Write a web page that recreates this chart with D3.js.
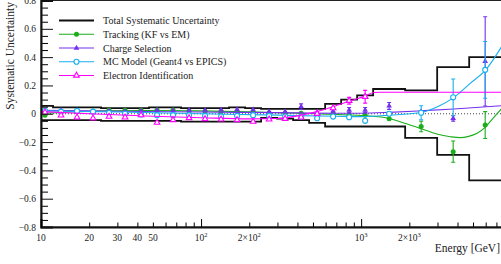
<!DOCTYPE html>
<html>
<head>
<meta charset="utf-8">
<script src="https://cdn.jsdelivr.net/npm/d3@7"></script>
<style>
  body { margin: 0; background: #fff; }
  svg { display: block; font-family: "Liberation Serif", "Times New Roman", serif; }
  svg text { font-family: "Liberation Serif", "Times New Roman", serif; }
</style>
</head>
<body>
<div id="chart"></div>
<script>
// energy bin edges [GeV]
const binEdges = [9.441, 11.885, 14.962, 18.836, 23.714, 29.854, 37.584, 47.315, 59.566, 74.989,
  94.406, 118.85, 149.62, 188.36, 237.14, 298.54, 375.84, 473.15, 595.66, 749.89,
  944.06, 1188.5, 1883.6, 2985.4, 4731.5, 7498.9];

const totalUpper = [0.055, 0.045, 0.045, 0.045, 0.04, 0.04, 0.04, 0.045, 0.045, 0.04, 0.04, 0.04,
  0.045, 0.04, 0.035, 0.035, 0.035, 0.035, 0.07, 0.10, 0.13, 0.175, 0.165, 0.33, 0.40];
const totalLower = [-0.045, -0.045, -0.045, -0.045, -0.05, -0.05, -0.05, -0.05, -0.05, -0.055, -0.055, -0.055,
  -0.055, -0.055, -0.03, -0.035, -0.045, -0.065, -0.09, -0.09, -0.09, -0.09, -0.17, -0.29, -0.47];

const trackingVals = [-0.01, 0.005, 0.015, 0.02, 0.026, 0.025, 0.025, 0.026, 0.026, 0.02, 0.018, 0.015,
  0.018, 0.01, 0.005, 0.003, 0.003, -0.005, 0.0, -0.01, -0.01, -0.035, -0.09, -0.268, -0.08];
const trackingErrs = [0.004, 0.004, 0.004, 0.004, 0.004, 0.004, 0.004, 0.004, 0.004, 0.005, 0.005, 0.005,
  0.005, 0.006, 0.006, 0.007, 0.007, 0.008, 0.008, 0.01, 0.01, 0.012, 0.037, 0.075, 0.095];
const trackingFit = [[10, 0.0], [15, 0.012], [25, 0.02], [50, 0.023], [100, 0.02], [200, 0.013], [400, 0.004],
  [700, -0.005], [1000, -0.012], [1450, -0.03], [1750, -0.056], [2300, -0.1], [3000, -0.145], [3600, -0.162],
  [4150, -0.169], [4700, -0.16], [5300, -0.138], [5900, -0.1], [6400, -0.056], [7000, -0.005], [7600, 0.04]];

const chargeVals = [0.015, 0.025, 0.02, 0.01, 0.02, 0.015, 0.02, 0.025, 0.022, 0.025, 0.025, 0.028,
  0.03, 0.03, 0.015, 0.015, 0.05, 0.01, 0.02, 0.026, 0.026, 0.055, 0.015, -0.032, 0.37];
const chargeErrs = [0.005, 0.005, 0.005, 0.005, 0.006, 0.006, 0.006, 0.006, 0.007, 0.008, 0.008, 0.009,
  0.01, 0.01, 0.01, 0.012, 0.02, 0.012, 0.018, 0.018, 0.018, 0.024, 0.015, 0.02, 0.315];
const chargeFit = [[10, 0.025], [30, 0.018], [100, 0.012], [300, 0.008], [700, 0.004], [1000, 0.004],
  [1500, 0.01], [2300, 0.02], [3800, 0.034], [7600, 0.057]];

const mcModelVals = [0.02, 0.015, 0.02, 0.015, 0.005, 0.0, -0.005, -0.01, -0.01, -0.01, -0.015, -0.02,
  -0.015, -0.01, -0.015, -0.02, -0.02, -0.032, -0.02, -0.025, -0.05, 0.0, 0.007, 0.116, 0.31];
const mcModelErrs = [0.004, 0.004, 0.004, 0.004, 0.004, 0.004, 0.004, 0.004, 0.004, 0.005, 0.005, 0.005,
  0.005, 0.005, 0.006, 0.006, 0.006, 0.007, 0.008, 0.008, 0.01, 0.01, 0.05, 0.13, 0.2];
const mcModelFit = [[10, 0.02], [30, 0.012], [100, 0.0], [300, -0.01], [700, -0.018], [1000, -0.02],
  [1500, -0.01], [2300, 0.007], [3000, 0.05], [3800, 0.116], [4800, 0.215], [6000, 0.31], [7600, 0.48]];

const electronIdVals = [0.01, -0.011, -0.025, -0.032, -0.02, -0.025, -0.01, -0.063, -0.044, -0.03, -0.037, -0.04,
  -0.044, -0.056, -0.04, -0.035, -0.025, 0.0, 0.04, 0.092, 0.12, null, null, null, null];
const electronIdErrs = [0.004, 0.004, 0.004, 0.004, 0.004, 0.004, 0.004, 0.004, 0.004, 0.005, 0.005, 0.005,
  0.005, 0.005, 0.006, 0.006, 0.008, 0.01, 0.015, 0.024, 0.045, null, null, null, null];
const electronIdFit = [[10, 0.015], [20, 0.0], [50, -0.018], [100, -0.028], [200, -0.036], [300, -0.034],
  [420, -0.01], [530, 0.015], [670, 0.05], [850, 0.09], [1060, 0.125], [1200, 0.15], [1300, 0.152], [7600, 0.152]];

const yTickValues = [-0.8, -0.6, -0.4, -0.2, 0, 0.2, 0.4, 0.6, 0.8];
const xMajorTicks = [10, 100, 1000];
const xLabelTicks = [10, 20, 30, 40, 50, 100, 200, 1000, 2000];

const FONT = "Liberation Serif, Times New Roman, serif";

class SystematicsVis {
  constructor(_parentElement, _series) {
    this.parentElement = _parentElement;
    this.series = _series;
    this.initVis();
  }

  initVis() {
    let vis = this;

    vis.width = 501;
    vis.height = 264;
    vis.plot = { left: 41, right: 502, top: 0.5, bottom: 227 };

    vis.svg = d3.select("#" + vis.parentElement)
      .append("svg")
      .attr("width", vis.width)
      .attr("height", vis.height);

    vis.x = d3.scaleLog().domain([10, 7586]).range([vis.plot.left, vis.plot.right]);
    vis.y = d3.scaleLinear().domain([-0.8, 0.8]).range([vis.plot.bottom, vis.plot.top]);

    vis.svg.append("clipPath").attr("id", "plot-clip")
      .append("rect")
      .attr("x", vis.plot.left).attr("y", vis.plot.top)
      .attr("width", vis.plot.right - vis.plot.left)
      .attr("height", vis.plot.bottom - vis.plot.top);

    vis.body = vis.svg.append("g").attr("clip-path", "url(#plot-clip)");

    vis.wrangleData();
  }

  wrangleData() {
    let vis = this;

    vis.centers = d3.range(binEdges.length - 1).map((i) => Math.sqrt(binEdges[i] * binEdges[i + 1]));

    vis.stepPoints = (vals) => vals.map((v, i) => [binEdges[i], v]).concat([[binEdges[vals.length], vals[vals.length - 1]]]);

    vis.displaySeries = vis.series.map((s) => ({
      ...s,
      points: s.vals.map((v, i) => ({ e: vis.centers[i], v, err: s.errs[i] })).filter((d) => d.v !== null),
    }));

    vis.updateVis();
  }

  updateVis() {
    let vis = this;

    // zero line
    vis.body.append("line")
      .attr("x1", vis.plot.left).attr("x2", vis.plot.right)
      .attr("y1", vis.y(0)).attr("y2", vis.y(0))
      .attr("stroke", "#444").attr("stroke-width", 1).attr("stroke-dasharray", "1,2");

    // total systematic band
    const step = d3.line().x((d) => vis.x(d[0])).y((d) => vis.y(d[1])).curve(d3.curveStepAfter);
    [totalUpper, totalLower].forEach((vals) => {
      vis.body.append("path")
        .attr("d", step(vis.stepPoints(vals)))
        .attr("fill", "none").attr("stroke", "#111").attr("stroke-width", 1.8);
    });

    const fitLine = d3.line().x((d) => vis.x(d[0])).y((d) => vis.y(d[1])).curve(d3.curveMonotoneX);

    vis.displaySeries.forEach((s) => {
      const g = vis.body.append("g").attr("class", "series");

      g.append("path")
        .attr("d", fitLine(s.fit))
        .attr("fill", "none").attr("stroke", s.color).attr("stroke-width", 1.1);

      const eb = g.selectAll(".err").data(s.points).join("g").attr("class", "err")
        .attr("stroke", s.color).attr("stroke-width", 1.1);
      eb.append("line")
        .attr("x1", (d) => vis.x(d.e)).attr("x2", (d) => vis.x(d.e))
        .attr("y1", (d) => vis.y(d.v - d.err)).attr("y2", (d) => vis.y(d.v + d.err));
      eb.filter((d) => vis.y(d.v - d.err) - vis.y(d.v + d.err) > 5).each(function (d) {
        [d.v - d.err, d.v + d.err].forEach((yv) => {
          d3.select(this).append("line")
            .attr("x1", vis.x(d.e) - 2).attr("x2", vis.x(d.e) + 2)
            .attr("y1", vis.y(yv)).attr("y2", vis.y(yv));
        });
      });

      vis.drawMarkers(g, s, s.points.map((d) => [vis.x(d.e), vis.y(d.v)]));
    });

    vis.drawAxes();
    vis.drawLegend();
  }

  drawMarkers(g, s, xy) {
    const m = g.selectAll(".marker").data(xy).join("path").attr("class", "marker")
      .attr("transform", (d) => `translate(${d[0]},${d[1]})`)
      .attr("d", d3.symbol(s.shape === "circle" ? d3.symbolCircle : d3.symbolTriangle, s.shape === "circle" ? 20 : 14)());
    if (s.open) {
      m.attr("fill", "#fff").attr("stroke", s.color).attr("stroke-width", 1.1);
    } else {
      m.attr("fill", s.color);
    }
  }

  drawAxes() {
    let vis = this;

    // frame
    vis.svg.append("rect")
      .attr("x", vis.plot.left).attr("y", vis.plot.top)
      .attr("width", vis.plot.right - vis.plot.left)
      .attr("height", vis.plot.bottom - vis.plot.top)
      .attr("fill", "none").attr("stroke", "#222").attr("stroke-width", 1);

    // y axis, ticks inside
    const yMinor = d3.range(-0.8, 0.801, 0.05).filter((v) => Math.abs(Math.round(v * 5) - v * 5) > 1e-6);
    vis.svg.append("g")
      .attr("transform", `translate(${vis.plot.left},0)`)
      .call(d3.axisLeft(vis.y).tickValues(yMinor).tickSize(-7).tickFormat(""))
      .call((g) => g.select(".domain").remove());
    vis.svg.append("g")
      .attr("transform", `translate(${vis.plot.left},0)`)
      .attr("font-family", FONT)
      .call(d3.axisLeft(vis.y).tickValues(yTickValues).tickSize(-12).tickPadding(5)
        .tickFormat((d) => (d === 0 ? "0" : d3.format(".1f")(d).replace("-", "\u2212"))))
      .call((g) => g.attr("font-family", FONT))
      .call((g) => g.select(".domain").attr("stroke-width", 2).attr("stroke", "#111"))
      .call((g) => g.selectAll(".tick line").attr("stroke", "#111"))
      .call((g) => g.selectAll(".tick text").attr("font-size", 9.5).attr("fill", "#222"));

    // x axis, ticks inside
    const xMinor = [];
    [10, 100, 1000].forEach((dec) => d3.range(2, 10).forEach((k) => xMinor.push(k * dec)));
    vis.svg.append("g")
      .attr("transform", `translate(0,${vis.plot.bottom})`)
      .call(d3.axisBottom(vis.x).tickValues(xMinor.filter((v) => v < 7586)).tickSize(-4.5).tickFormat(""))
      .call((g) => g.select(".domain").remove());
    vis.svg.append("g")
      .attr("transform", `translate(0,${vis.plot.bottom})`)
      .call(d3.axisBottom(vis.x).tickValues(xMajorTicks).tickSize(-8).tickFormat(""))
      .call((g) => g.select(".domain").attr("stroke-width", 2).attr("stroke", "#111"));

    const xl = vis.svg.append("g").attr("font-size", 9.5).attr("font-family", FONT)
      .attr("fill", "#222").attr("text-anchor", "middle");
    xLabelTicks.forEach((v) => {
      const t = xl.append("text").attr("x", vis.x(v)).attr("y", 240.5);
      const exp = Math.floor(Math.log10(v) + 1e-9);
      const mant = Math.round(v / Math.pow(10, exp));
      if (v < 100) {
        t.text(v);
      } else {
        t.append("tspan").text(mant === 1 ? "10" : mant + "\u00d710");
        t.append("tspan").attr("dy", -4).attr("font-size", 6.5).text(exp);
      }
    });

    // titles
    vis.svg.append("text")
      .attr("transform", "translate(14,2) rotate(-90)")
      .attr("text-anchor", "end")
      .attr("font-size", 11.5).attr("font-family", FONT).attr("fill", "#222")
      .text("Systematic Uncertainty");

    vis.svg.append("text")
      .attr("x", 500).attr("y", 252)
      .attr("text-anchor", "end")
      .attr("font-size", 11.5).attr("font-family", FONT).attr("fill", "#222")
      .text("Energy [GeV]");
  }

  drawLegend() {
    let vis = this;

    const rows = [{ label: "Total Systematic Uncertainty", color: "#111", width: 1.8 }]
      .concat(vis.series.map((s) => ({ ...s, width: 1.1 })));

    const lg = vis.svg.append("g").attr("class", "legend").attr("font-family", FONT);
    rows.forEach((r, i) => {
      const cy = 20.5 + i * 13.75;
      lg.append("line")
        .attr("x1", 59).attr("x2", 94).attr("y1", cy).attr("y2", cy)
        .attr("stroke", r.color).attr("stroke-width", r.width);
      if (r.shape) vis.drawMarkers(lg.append("g"), r, [[76.5, cy]]);
      lg.append("text")
        .attr("x", 103).attr("y", cy + 3.5)
        .attr("font-size", 10).attr("fill", "#222")
        .text(r.label);
    });
  }
}

new SystematicsVis("chart", [
  { label: "Tracking (KF vs EM)", color: "#1aae1a", shape: "circle", open: false,
    vals: trackingVals, errs: trackingErrs, fit: trackingFit },
  { label: "Charge Selection", color: "#7530ee", shape: "triangle", open: false,
    vals: chargeVals, errs: chargeErrs, fit: chargeFit },
  { label: "MC Model (Geant4 vs EPICS)", color: "#1aaef0", shape: "circle", open: true,
    vals: mcModelVals, errs: mcModelErrs, fit: mcModelFit },
  { label: "Electron Identification", color: "#ff00ff", shape: "triangle", open: true,
    vals: electronIdVals, errs: electronIdErrs, fit: electronIdFit },
]);
</script>
</body>
</html>
